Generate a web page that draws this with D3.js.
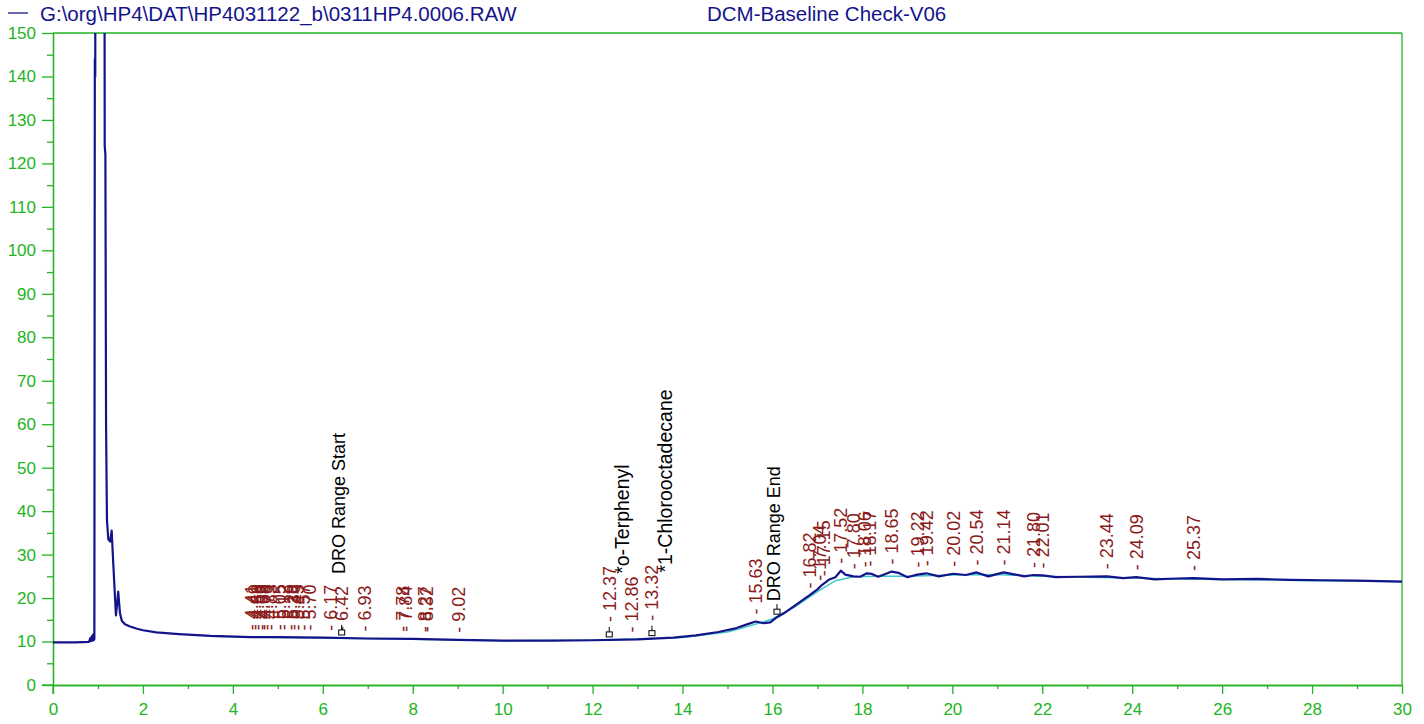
<!DOCTYPE html>
<html><head><meta charset="utf-8">
<script src="https://cdn.jsdelivr.net/npm/d3@7"></script>
<style>
html,body{margin:0;padding:0;background:#fff;}
svg{display:block;font-family:"Liberation Sans",Arial,Helvetica,sans-serif;}
</style></head>
<body><svg id="c" width="1424" height="724"></svg>
<script>
// ---- data ----
const fileTitle = "G:\\org\\HP4\\DAT\\HP4031122_b\\0311HP4.0006.RAW";
const methodTitle = "DCM-Baseline Check-V06";
const xTicks = [0,2,4,6,8,10,12,14,16,18,20,22,24,26,28,30];
const yTicks = [0,10,20,30,40,50,60,70,80,90,100,110,120,130,140,150];

// chromatogram (time min, response)
const traceTime = [0,0.5,0.8,0.83,0.845,0.86,0.875,0.89,0.905,0.92,0.93,0.94,0.95,0.96,1.12,1.15,1.165,1.18,1.2,1.23,1.27,1.305,1.34,1.40,1.43,1.45,1.49,1.53,1.6,1.7,1.85,2.0,2.3,2.8,3.5,4.4,5.0,6.0,7.0,8.0,9.0,10.0,11.0,12.0,13.0,13.8,14.3,14.8,15.2,15.45,15.63,15.8,15.95,16.1,16.3,16.6,16.82,17.0,17.1,17.25,17.4,17.52,17.62,17.8,17.95,18.1,18.2,18.35,18.5,18.65,18.8,19.0,19.22,19.42,19.7,20.02,20.3,20.54,20.8,21.14,21.4,21.6,21.8,22.01,22.3,22.8,23.44,23.8,24.09,24.5,25.0,25.37,26.0,26.8,27.5,28.3,29.0,30.0];
const traceVal  = [9.8,9.8,9.9,10.8,10.1,11.2,10.2,11.6,10.3,10.6,144,140,400,400,400,124,122,60,38,33.5,33,35.5,28,16,19,21.5,16.5,14.8,14.0,13.5,13.0,12.6,12.1,11.7,11.3,11.0,11.0,10.9,10.7,10.6,10.4,10.2,10.2,10.3,10.5,10.9,11.4,12.2,13.1,14.0,14.6,14.2,14.4,15.6,16.8,19.0,20.6,22.0,23.0,24.2,24.8,26.3,25.4,25.0,24.9,25.7,25.6,24.9,25.5,26.1,25.8,24.8,25.4,25.7,25.0,25.6,25.3,25.9,25.0,25.9,25.4,25.0,25.3,25.2,24.8,24.9,25.0,24.6,24.8,24.3,24.5,24.6,24.3,24.4,24.2,24.1,24.0,23.8];

// fitted baseline
const baseTime = [3.5,5,8,10,12,14,15,15.5,16,16.5,17,17.4,17.8,18.3,19,20,21,22,23,24,25,26,28,30];
const baseVal  = [11.2,10.9,10.5,10.2,10.3,10.9,12.2,13.6,15.2,18.0,21.5,24.0,24.9,25.0,25.0,25.3,25.4,25.0,24.8,24.6,24.4,24.3,24.0,23.8];

// integrated peaks (retention times)
const peakTimes = [4.41,4.49,4.56,4.63,4.69,4.76,4.83,5.05,5.12,5.29,5.36,5.45,5.57,5.70,6.17,6.42,6.93,7.78,7.84,8.27,8.32,9.02,12.37,12.86,13.32,15.63,16.82,17.04,17.15,17.52,17.80,18.06,18.17,18.65,19.22,19.42,20.02,20.54,21.14,21.80,22.01,23.44,24.09,25.37];

// named compounds / range markers
const namedTimes = [6.42,12.37,13.32,16.10];
const namedLabels = ["DRO Range Start","*o-Terphenyl","*1-Chlorooctadecane","DRO Range End"];
const namedKind = ["range","compound","compound","range"];

// ---- drawing ----
const svg = d3.select("#c");
const green = "#22b422", navy = "#14148a", cyan = "#3cc8c8", red = "#8b1a1a";
const x = d3.scaleLinear().domain([0,30]).range([53,1402]);
const y = d3.scaleLinear().domain([0,150]).range([685,33]);
const FS = 17, LFS = 18, HFS = 20.5;

const trace = traceTime.map((t,i)=>({t, v:traceVal[i]}));
const base = baseTime.map((t,i)=>({t, v:baseVal[i]}));
const bis = d3.bisector(d=>d.t).left;
function valAt(t){
  const i = bis(trace, t);
  if(i<=0) return trace[0].v;
  if(i>=trace.length) return trace[trace.length-1].v;
  const a=trace[i-1], b=trace[i];
  return a.v + (b.v-a.v)*(t-a.t)/(b.t-a.t);
}

// header
svg.append("line").attr("x1",8).attr("x2",28).attr("y1",13).attr("y2",13).attr("stroke",navy).attr("stroke-width",1.3);
svg.append("text").attr("x",40).attr("y",21).attr("font-size",HFS).attr("fill",navy).text(fileTitle);
svg.append("text").attr("x",707).attr("y",21).attr("font-size",HFS).attr("fill",navy).text(methodTitle);

// axes
const yAxis = svg.append("g").attr("transform","translate(53,0)")
  .call(d3.axisLeft(y).tickValues(yTicks).tickSize(11).tickSizeOuter(0).tickPadding(6));
const yMinor = svg.append("g").attr("transform","translate(53,0)")
  .call(d3.axisLeft(y).tickValues(d3.range(5,150,10)).tickSize(6).tickSizeOuter(0).tickFormat(""));
const xAxis = svg.append("g").attr("transform","translate(0,685)")
  .call(d3.axisBottom(x).tickValues(xTicks).tickSize(9).tickSizeOuter(0).tickPadding(9));
const xMinor = svg.append("g").attr("transform","translate(0,685)")
  .call(d3.axisBottom(x).tickValues(d3.range(1,30,2)).tickSize(4).tickSizeOuter(0).tickFormat(""));
[yAxis,yMinor,xAxis,xMinor].forEach(g=>{
  g.selectAll("path,line").attr("stroke",green).attr("stroke-width",1.3);
  g.selectAll("text").attr("fill",green).attr("font-size",FS).attr("font-family","\"Liberation Sans\",Arial,sans-serif");
});
// axis extensions and frame
svg.append("line").attr("x1",53).attr("x2",53).attr("y1",685).attr("y2",694).attr("stroke",green).attr("stroke-width",1.3);
svg.append("line").attr("x1",42).attr("x2",53).attr("y1",685).attr("y2",685).attr("stroke",green).attr("stroke-width",1.3);
svg.append("line").attr("x1",53).attr("x2",1402).attr("y1",33).attr("y2",33).attr("stroke",green).attr("stroke-width",1.3);
svg.append("line").attr("x1",1402).attr("x2",1402).attr("y1",33).attr("y2",685).attr("stroke",green).attr("stroke-width",1.3);

// clip
svg.append("clipPath").attr("id","pc").append("rect").attr("x",53).attr("y",33).attr("width",1349).attr("height",652);
const line = d3.line().x(d=>x(d.t)).y(d=>y(d.v));
const plot = svg.append("g").attr("clip-path","url(#pc)");
plot.append("path").datum(base).attr("d",line).attr("fill","none").attr("stroke",cyan).attr("stroke-width",1.5);
plot.append("path").datum(trace).attr("d",line).attr("fill","none").attr("stroke",navy).attr("stroke-width",2.2).attr("stroke-linejoin","round");

// peak labels
const lab = svg.append("g").attr("font-size",LFS);
const redTop = {};
peakTimes.forEach(t=>{
  const i = namedTimes.findIndex(n=>Math.abs(n-t)<0.005);
  const off = i<0 ? 7 : (namedKind[i]==="compound" ? 18 : 6);
  const px = x(t), py = y(valAt(t)) - off;
  const tx = lab.append("text").attr("transform",`translate(${px},${py}) rotate(-90)`)
    .attr("dy","0.35em").attr("fill",red).text("- " + t.toFixed(2));
  redTop[t.toFixed(2)] = py - tx.node().getComputedTextLength();
});

// named markers
namedTimes.forEach((t,i)=>{
  const px = x(t), pv = y(valAt(t));
  svg.append("rect").attr("x",px-3).attr("y",pv-8).attr("width",6).attr("height",5)
    .attr("fill","#fff").attr("stroke","#000").attr("stroke-width",1);
  svg.append("line").attr("x1",px).attr("x2",px).attr("y1",pv-8).attr("y2",pv-13).attr("stroke","#000").attr("stroke-width",1);
  let bx, by, fs = LFS;
  const key = t.toFixed(2);
  if(namedKind[i]==="range"){
    bx = px - 3;
    by = (key in redTop) ? redTop[key] - 12 : pv - 16;
  } else {
    bx = px + 13;
    by = redTop[key] + 8;
    fs = 19.5;
  }
  lab.append("text").attr("transform",`translate(${bx},${by}) rotate(-90)`)
    .attr("dy","0.35em").attr("font-size",fs).attr("fill","#000").text(namedLabels[i]);
});
</script></body></html>
